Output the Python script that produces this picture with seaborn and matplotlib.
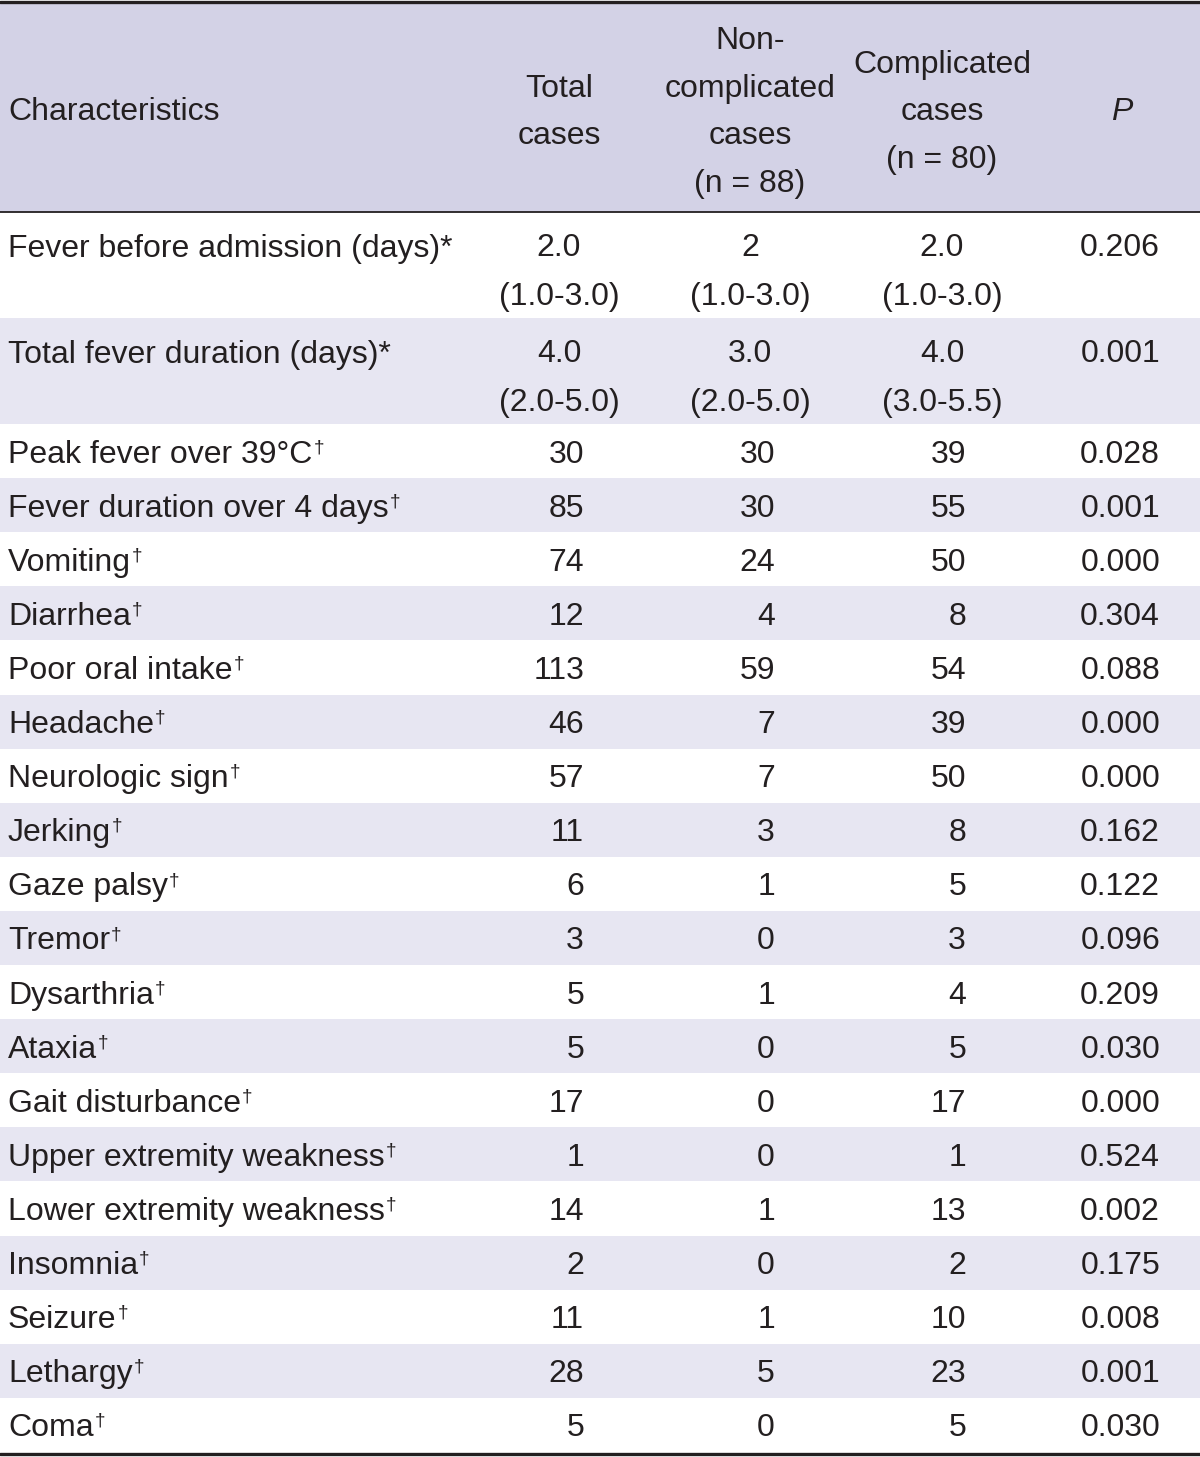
import numpy as np
import matplotlib.pyplot as plt
import seaborn as sns

# ---- table content ----
characteristics = ['Fever before admission (days)*', 'Total fever duration (days)*',
                   'Peak fever over 39°C', 'Fever duration over 4 days', 'Vomiting',
                   'Diarrhea', 'Poor oral intake', 'Headache', 'Neurologic sign',
                   'Jerking', 'Gaze palsy', 'Tremor', 'Dysarthria', 'Ataxia',
                   'Gait disturbance', 'Upper extremity weakness',
                   'Lower extremity weakness', 'Insomnia', 'Seizure', 'Lethargy', 'Coma']
dagger = [False, False] + [True] * 19
total_cases = ['2.0\n(1.0-3.0)', '4.0\n(2.0-5.0)', '30', '85', '74', '12', '113', '46',
               '57', '11', '6', '3', '5', '5', '17', '1', '14', '2', '11', '28', '5']
noncomplicated = ['2\n(1.0-3.0)', '3.0\n(2.0-5.0)', '30', '30', '24', '4', '59', '7',
                  '7', '3', '1', '0', '1', '0', '0', '0', '1', '0', '1', '5', '0']
complicated = ['2.0\n(1.0-3.0)', '4.0\n(3.0-5.5)', '39', '55', '50', '8', '54', '39',
               '50', '8', '5', '3', '4', '5', '17', '1', '13', '2', '10', '23', '5']
p_values = ['0.206', '0.001', '0.028', '0.001', '0.000', '0.304', '0.088', '0.000',
            '0.000', '0.162', '0.122', '0.096', '0.209', '0.030', '0.000', '0.524',
            '0.002', '0.175', '0.008', '0.001', '0.030']
headers = ['Characteristics', 'Total\ncases', 'Non-\ncomplicated\ncases\n(n = 88)',
           'Complicated\ncases\n(n = 80)', 'P']

# ---- style ----
sns.set_theme(style='white')
plt.rcParams['font.family'] = ['Liberation Sans Narrow', 'Liberation Sans', 'DejaVu Sans']

header_color = '#d3d2e6'
band_color = '#e7e6f2'
line_color = '#231f20'
text_color = '#231f20'
fs = 23
cap = 0.72 * fs * 100 / 72.0   # cap height in pixels

W, H = 1200, 1457
fig = plt.figure(figsize=(W / 100, H / 100), dpi=100)
ax = fig.add_axes([0, 0, 1, 1])
ax.set_xlim(0, W)
ax.set_ylim(H, 0)
ax.axis('off')

header_top, header_bottom = 2, 212
line_h = 54.1
pitch = 49
right_x = [584, 775, 966, 1160]
center_x = [559, 750, 942, 1122]

# header
ax.axhspan(header_top, header_bottom, color=header_color, lw=0)
hc = (header_top + header_bottom) / 2 + 2
for j, htxt in enumerate(headers):
    lines = htxt.split('\n')
    n = len(lines)
    for k, ln in enumerate(lines):
        yb = hc + (k - (n - 1) / 2) * 47.5 + cap / 2
        if j == 0:
            ax.text(8, yb, ln, fontsize=fs, color=text_color, ha='left', va='baseline')
        else:
            ax.text(center_x[j - 1], yb, ln, fontsize=fs, color=text_color, ha='center',
                    va='baseline', style='italic' if ln == 'P' else 'normal')

# body
renderer = fig.canvas.get_renderer()
inv = ax.transData.inverted()
cols = [total_cases, noncomplicated, complicated, p_values]
y = header_bottom
for i, name in enumerate(characteristics):
    nlines = total_cases[i].count('\n') + 1
    h = 106 if nlines > 1 else line_h
    if i % 2 == 1:
        ax.axhspan(y, y + h, color=band_color, lw=0)
    if nlines > 1:
        base = [y + 33 + k * pitch + cap / 2 for k in range(nlines)]
    else:
        base = [y + h / 2 + cap / 2]
    t = ax.text(8, base[0], name, fontsize=fs, color=text_color, ha='left', va='baseline')
    if dagger[i]:
        bb = t.get_window_extent(renderer=renderer)
        x_end = inv.transform((bb.x1, bb.y0))[0]
        ax.text(x_end + 1, base[0] - cap * 0.45, '†', fontsize=fs * 0.6,
                color=text_color, ha='left', va='baseline')
    for c, col in enumerate(cols):
        parts = col[i].split('\n')
        if nlines > 1 and c < 3:
            for k, p in enumerate(parts):
                ax.text(center_x[c], base[k], p, fontsize=fs, color=text_color,
                        ha='center', va='baseline')
        else:
            ax.text(right_x[c], base[0], parts[0], fontsize=fs, color=text_color,
                    ha='right', va='baseline')
    y += h

# rules
ax.axhline(1.5, color=line_color, lw=2.4)
ax.axhline(header_bottom, color=line_color, lw=1.3)
ax.axhline(y + 2.5, color=line_color, lw=2.4)

fig.savefig('out.png', dpi=100, facecolor='white')
